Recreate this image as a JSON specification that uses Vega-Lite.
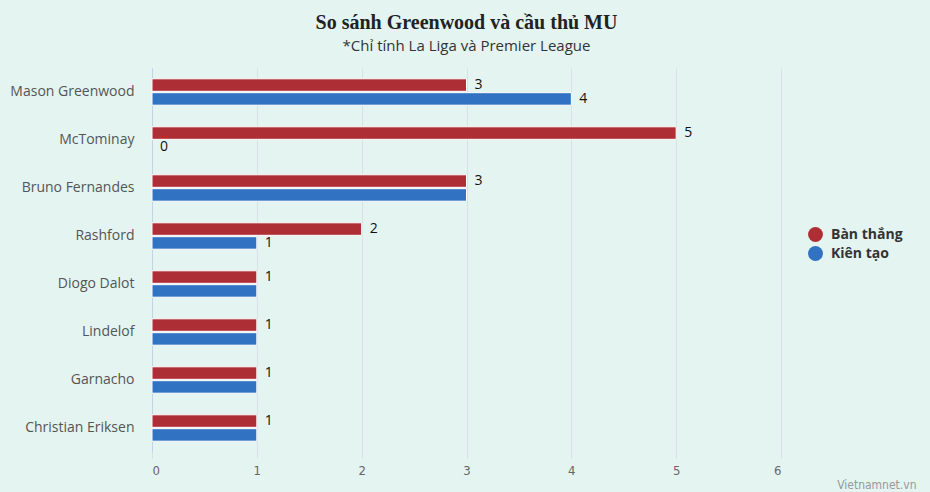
{
  "$schema": "https://vega.github.io/schema/vega-lite/v6.json",
  "width": 629,
  "height": 384,
  "autosize": {"type": "none"},
  "background": "#e3f4f1",
  "padding": {"left": 152, "top": 68, "right": 149, "bottom": 40},
  "title": {
    "text": "So sánh Greenwood và cầu thủ MU",
    "subtitle": "*Chỉ tính La Liga và Premier League",
    "font": "Liberation Serif",
    "fontSize": 20,
    "fontWeight": "bold",
    "color": "#222222",
    "subtitleFont": "Open Sans",
    "subtitleFontSize": 15,
    "subtitleColor": "#333333",
    "subtitlePadding": 6,
    "offset": 14,
    "anchor": "middle"
  },
  "config": {
    "view": {"stroke": null},
    "font": "Open Sans"
  },
  "data": {
    "values": [
      {"player": "Mason Greenwood", "type": "Bàn thắng", "value": 3, "show": true},
      {"player": "Mason Greenwood", "type": "Kiên tạo", "value": 4, "show": true},
      {"player": "McTominay", "type": "Bàn thắng", "value": 5, "show": true},
      {"player": "McTominay", "type": "Kiên tạo", "value": 0, "show": true},
      {"player": "Bruno Fernandes", "type": "Bàn thắng", "value": 3, "show": true},
      {"player": "Bruno Fernandes", "type": "Kiên tạo", "value": 3, "show": false},
      {"player": "Rashford", "type": "Bàn thắng", "value": 2, "show": true},
      {"player": "Rashford", "type": "Kiên tạo", "value": 1, "show": true},
      {"player": "Diogo Dalot", "type": "Bàn thắng", "value": 1, "show": true},
      {"player": "Diogo Dalot", "type": "Kiên tạo", "value": 1, "show": false},
      {"player": "Lindelof", "type": "Bàn thắng", "value": 1, "show": true},
      {"player": "Lindelof", "type": "Kiên tạo", "value": 1, "show": false},
      {"player": "Garnacho", "type": "Bàn thắng", "value": 1, "show": true},
      {"player": "Garnacho", "type": "Kiên tạo", "value": 1, "show": false},
      {"player": "Christian Eriksen", "type": "Bàn thắng", "value": 1, "show": true},
      {"player": "Christian Eriksen", "type": "Kiên tạo", "value": 1, "show": false}
    ]
  },
  "encoding": {
    "y": {
      "field": "player",
      "type": "nominal",
      "sort": null,
      "scale": {"paddingInner": 0.45, "paddingOuter": 0.225},
      "axis": {
        "title": null,
        "ticks": false,
        "domain": true,
        "domainColor": "#c4d2e6",
        "labelFont": "Open Sans",
        "labelFontSize": 14,
        "labelColor": "#555555",
        "labelPadding": 18
      }
    },
    "yOffset": {
      "field": "type",
      "type": "nominal",
      "sort": ["Bàn thắng", "Kiên tạo"],
      "scale": {"paddingInner": 0.1}
    },
    "x": {
      "field": "value",
      "type": "quantitative",
      "scale": {"domain": [0, 6], "nice": false},
      "axis": {
        "title": "Vietnamnet.vn",
        "titleAnchor": "end",
        "titleAlign": "right",
        "titleX": 764,
        "titleY": 27,
        "titleFont": "DejaVu Sans Condensed",
        "titleFontSize": 12,
        "titleFontWeight": "normal",
        "titleColor": "#999999",
        "values": [0, 1, 2, 3, 4, 5, 6],
        "domain": false,
        "grid": true,
        "gridColor": "#d6e3e2",
        "ticks": true,
        "tickColor": "#d6e3e2",
        "tickSize": 6,
        "labelFont": "DejaVu Sans Condensed",
        "labelFontSize": 13,
        "labelColor": "#666666",
        "labelPadding": 6
      }
    }
  },
  "layer": [
    {
      "mark": {"type": "bar", "stroke": "#ffffff", "strokeWidth": 1},
      "encoding": {
        "strokeOpacity": {"condition": {"test": "datum.value == 0", "value": 0}, "value": 1},
        "color": {
          "field": "type",
          "type": "nominal",
          "sort": ["Bàn thắng", "Kiên tạo"],
          "scale": {"domain": ["Bàn thắng", "Kiên tạo"], "range": ["#ae2e35", "#3173c2"]},
          "legend": {
            "title": null,
            "orient": "none",
            "legendX": 656,
            "legendY": 159,
            "symbolType": "circle",
            "symbolSize": 220,
            "symbolStrokeWidth": 0,
            "labelFont": "Open Sans",
            "labelFontSize": 14,
            "labelFontWeight": "bold",
            "labelColor": "#333333",
            "rowPadding": 4,
            "labelOffset": 8
          }
        }
      }
    },
    {
      "transform": [{"filter": "datum.show"}],
      "mark": {"type": "text", "align": "left", "baseline": "middle", "dx": 8, "fontSize": 14, "font": "Open Sans", "color": "#111111"},
      "encoding": {
        "text": {"field": "value", "type": "quantitative"}
      }
    }
  ]
}
